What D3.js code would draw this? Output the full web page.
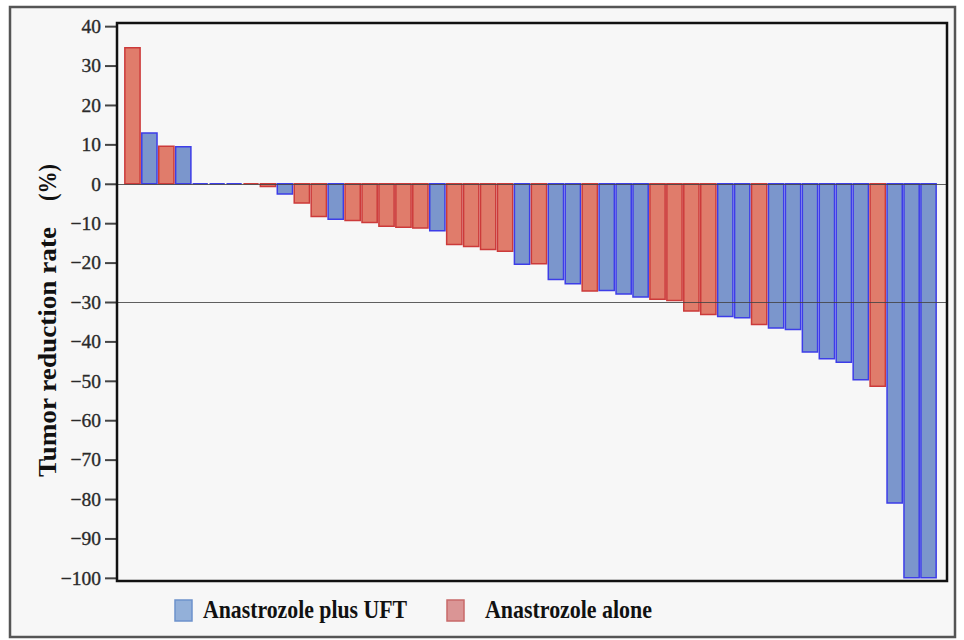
<!DOCTYPE html>
<html lang="en">
<head>
<meta charset="UTF-8">
<title>Tumor reduction waterfall</title>
<script src="https://cdn.jsdelivr.net/npm/d3@7/dist/d3.min.js"></script>
<style>
  * { margin: 0; padding: 0; }
  body { background: #fff; }
  svg { display: block; }
</style>
</head>
<body>
<svg id="chart" width="964" height="640"></svg>
<script>
// U = Anastrozole plus UFT, A = Anastrozole alone (one entry per patient, sorted)
const arms = ['A','U','A','U','U','U','U','A','A','U','A','A','U','A','A','A','A','A','U','A','A','A','A','U',
              'A','U','U','A','U','U','U','A','A','A','A','U','U','A','U','U','U','U','U','U','A','U','U','U'];
const reduction = [34.5, 12.9, 9.5, 9.4, 0, 0, 0, 0, -0.7, -2.6, -4.9, -8.3, -9.0, -9.3, -9.8, -10.8, -11.0, -11.2,
                   -11.9, -15.4, -15.9, -16.7, -17.1, -20.4, -20.3, -24.3, -25.4, -27.2, -27.1, -28.0, -28.7, -29.3,
                   -29.6, -32.3, -33.2, -33.7, -34.0, -35.7, -36.6, -37.0, -42.7, -44.4, -45.3, -49.7, -51.4, -81.0,
                   -100, -100];
const yTicks = [40, 30, 20, 10, 0, -10, -20, -30, -40, -50, -60, -70, -80, -90, -100];
const refLines = [0, -30];
const legendKeys = ['U', 'A'];
const legendLabels = ['Anastrozole plus UFT', 'Anastrozole alone'];

const fillColor = { U: '#7b96cc', A: '#e07c6b' };
const strokeColor = { U: '#3d3de8', A: '#cc3a3a' };
const legendFill = { U: '#93b0d9', A: '#da9595' };
const legendStroke = { U: '#6d92cc', A: '#c86a6a' };

const svg = d3.select('#chart');
const plot = { left: 117, right: 947, top: 23, bottom: 581 };

// page frame
svg.append('rect')
  .attr('x', 10).attr('y', 7).attr('width', 945).attr('height', 630)
  .attr('fill', '#f7f7f7').attr('stroke', '#555').attr('stroke-width', 2.5);

const x = d3.scaleBand()
  .domain(d3.range(reduction.length))
  .range([124, 937])
  .paddingInner(0.1)
  .paddingOuter(0.05);

const y = d3.scaleLinear()
  .domain([-100.8, 40.8])
  .range([plot.bottom, plot.top]);

// bars (paths so zero-height bars still show their outline)
svg.append('g')
  .selectAll('path')
  .data(reduction)
  .join('path')
  .attr('d', (v, i) => {
    const x0 = x(i), x1 = x(i) + x.bandwidth();
    const a = Math.min(y(0), y(v)), b = Math.max(y(0), y(v));
    return `M${x0},${a}H${x1}V${b}H${x0}Z`;
  })
  .attr('fill', (v, i) => fillColor[arms[i]])
  .attr('stroke', (v, i) => strokeColor[arms[i]])
  .attr('stroke-width', 1.5);

// reference lines at 0 and -30
svg.append('g')
  .selectAll('line')
  .data(refLines)
  .join('line')
  .attr('x1', plot.left).attr('x2', plot.right)
  .attr('y1', d => Math.round(y(d)) + 0.5).attr('y2', d => Math.round(y(d)) + 0.5)
  .attr('stroke', '#444').attr('stroke-opacity', 0.85).attr('stroke-width', 1.2);

// axis
const yAxis = svg.append('g')
  .attr('transform', `translate(${plot.left},0)`)
  .call(d3.axisLeft(y).tickValues(yTicks).tickSize(12).tickPadding(4));
yAxis.select('.domain').remove();
yAxis.selectAll('.tick line').attr('stroke', '#444').attr('stroke-width', 2);
yAxis.selectAll('.tick text')
  .attr('font-family', '"Liberation Serif", "DejaVu Serif", serif')
  .attr('font-size', 19.5)
  .attr('fill', '#2a2a2a')
  .attr('stroke', '#2a2a2a')
  .attr('stroke-width', 0.35);

// plot box
svg.append('rect')
  .attr('x', plot.left).attr('y', plot.top)
  .attr('width', plot.right - plot.left).attr('height', plot.bottom - plot.top)
  .attr('fill', 'none').attr('stroke', '#111').attr('stroke-width', 2.5);

// y title
const title = svg.append('g')
  .attr('transform', 'translate(56,0) rotate(-90)')
  .attr('font-family', '"Liberation Serif", "DejaVu Serif", serif')
  .attr('font-weight', 'bold')
  .attr('font-size', 26)
  .attr('fill', '#111');
title.append('text')
  .attr('x', -477).attr('y', 0)
  .attr('textLength', 250).attr('lengthAdjust', 'spacingAndGlyphs')
  .text('Tumor reduction rate');
title.append('text')
  .attr('x', -201).attr('y', 0)
  .attr('textLength', 37).attr('lengthAdjust', 'spacingAndGlyphs')
  .text('(%)');

// legend
const legendX = [175, 447];
const legendTextX = [203, 485];
const legendW = [204, 167];
const legend = svg.append('g');
legendKeys.forEach((k, i) => {
  legend.append('rect')
    .attr('x', legendX[i]).attr('y', 600).attr('width', 17).attr('height', 21)
    .attr('fill', legendFill[k]).attr('stroke', legendStroke[k]).attr('stroke-width', 1.5);
  legend.append('text')
    .attr('x', legendTextX[i]).attr('y', 618)
    .attr('textLength', legendW[i]).attr('lengthAdjust', 'spacingAndGlyphs')
    .attr('font-family', '"Liberation Serif", "DejaVu Serif", serif')
    .attr('font-weight', 'bold')
    .attr('font-size', 25)
    .attr('fill', '#111')
    .text(legendLabels[i]);
});
</script>
</body>
</html>
